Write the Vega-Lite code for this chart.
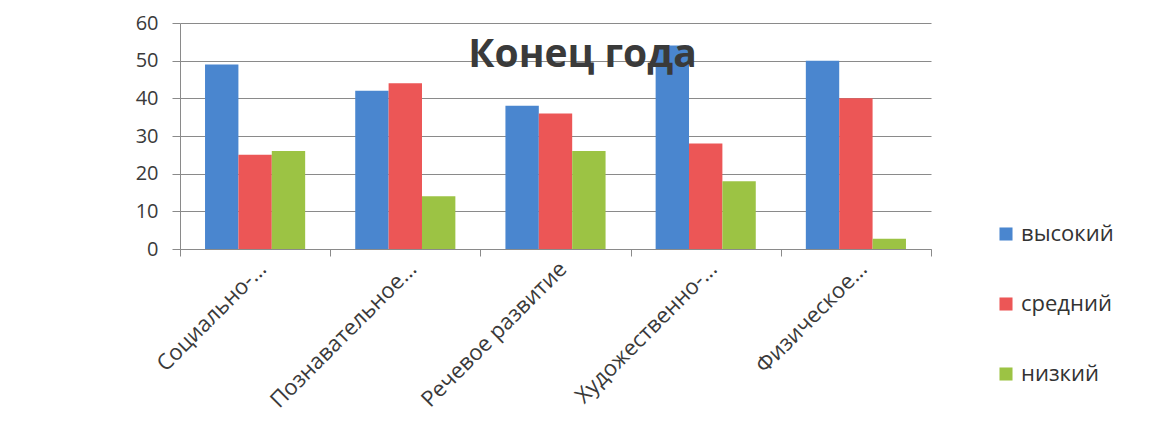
{
  "$schema": "https://vega.github.io/schema/vega-lite/v6.json",
  "autosize": {"type": "none"},
  "width": 751,
  "height": 226,
  "padding": {"left": 180, "top": 23, "right": 236, "bottom": 197},
  "background": "white",
  "title": {
    "text": "Конец года",
    "font": "Open Sans",
    "fontSize": 39,
    "fontWeight": "bold",
    "color": "#3a3a3a",
    "anchor": "middle",
    "orient": "top",
    "offset": -62,
    "dx": 27
  },
  "data": {
    "values": [
      {"area": "Социально-...", "level": "высокий", "value": 49},
      {"area": "Социально-...", "level": "средний", "value": 25},
      {"area": "Социально-...", "level": "низкий", "value": 26},
      {"area": "Познавательное...", "level": "высокий", "value": 42},
      {"area": "Познавательное...", "level": "средний", "value": 44},
      {"area": "Познавательное...", "level": "низкий", "value": 14},
      {"area": "Речевое развитие", "level": "высокий", "value": 38},
      {"area": "Речевое развитие", "level": "средний", "value": 36},
      {"area": "Речевое развитие", "level": "низкий", "value": 26},
      {"area": "Художественно-...", "level": "высокий", "value": 54},
      {"area": "Художественно-...", "level": "средний", "value": 28},
      {"area": "Художественно-...", "level": "низкий", "value": 18},
      {"area": "Физическое...", "level": "высокий", "value": 50},
      {"area": "Физическое...", "level": "средний", "value": 40},
      {"area": "Физическое...", "level": "низкий", "value": 2.7}
    ]
  },
  "mark": {"type": "bar"},
  "encoding": {
    "x": {
      "field": "area",
      "type": "nominal",
      "sort": null,
      "scale": {"paddingInner": 0, "paddingOuter": 0},
      "axis": {
        "title": null,
        "labelAngle": -45,
        "labelFont": "Open Sans",
        "labelFontSize": 22,
        "labelColor": "#3a3a3a",
        "labelPadding": 2,
        "tickBand": "extent",
        "tickSize": 7,
        "tickColor": "#8a8a8a",
        "domainColor": "#8a8a8a",
        "grid": false,
        "labelLimit": 300
      }
    },
    "xOffset": {
      "field": "level",
      "type": "nominal",
      "sort": ["высокий", "средний", "низкий"],
      "scale": {"paddingInner": 0, "paddingOuter": 0.75}
    },
    "y": {
      "field": "value",
      "type": "quantitative",
      "scale": {"domain": [0, 60]},
      "axis": {
        "title": null,
        "values": [0, 10, 20, 30, 40, 50, 60],
        "labelFont": "Open Sans",
        "labelFontSize": 20,
        "labelColor": "#3a3a3a",
        "labelPadding": 14,
        "tickSize": 8,
        "tickColor": "#8a8a8a",
        "domainColor": "#8a8a8a",
        "gridColor": "#8a8a8a",
        "gridWidth": 1.2
      }
    },
    "color": {
      "field": "level",
      "type": "nominal",
      "sort": ["высокий", "средний", "низкий"],
      "scale": {
        "domain": ["высокий", "средний", "низкий"],
        "range": ["#4a86cf", "#ec5656", "#9cc344"]
      },
      "legend": {
        "title": null,
        "orient": "none",
        "legendX": 815,
        "legendY": 200,
        "symbolType": "square",
        "symbolSize": 170,
        "symbolStrokeWidth": 0,
        "labelFont": "Open Sans",
        "labelFontSize": 22,
        "labelColor": "#333333",
        "rowPadding": 48,
        "labelOffset": 4
      }
    }
  },
  "config": {
    "view": {"stroke": null}
  }
}
